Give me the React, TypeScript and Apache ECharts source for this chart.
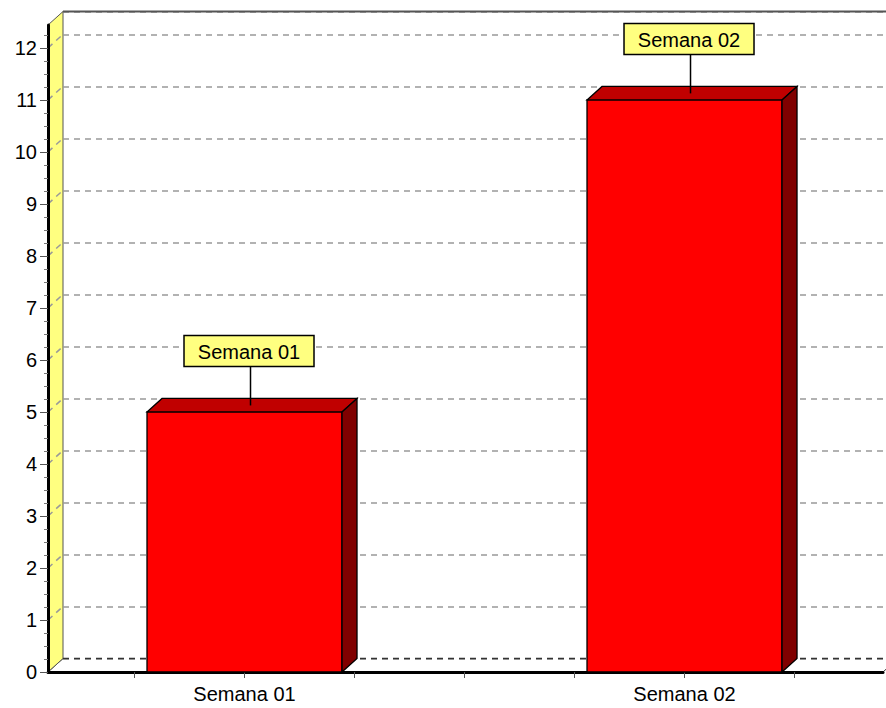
import React, { useEffect, useRef } from "react";
import * as echarts from "echarts";

const categories = ["Semana 01", "Semana 02"];
const values = [5, 11];
const yTickValues = [0, 1, 2, 3, 4, 5, 6, 7, 8, 9, 10, 11, 12];
const xTickValues = [-0.25, 0, 0.25, 0.5, 0.75, 1, 1.25];
const xLabelValues = [0, 1];

const X_MIN = -0.4466;
const X_MAX = 1.4511;
const Y_MAX = 12.44;
const DX = 15;
const DY = 13.5;
const BAR_HALF = 0.2216;
const FONT = "'Liberation Sans', Arial, sans-serif";

export default function App() {
  const ref = useRef<HTMLDivElement>(null);
  useEffect(() => {
    const chart = echarts.init(ref.current!, null, { renderer: "svg" });

    const decoRender = (params: any, api: any) => {
      const p0 = api.coord([X_MIN, 0]);
      const pTop = api.coord([X_MIN, Y_MAX]);
      const pR = api.coord([X_MAX, 0]);
      const children: any[] = [];
      children.push({
        type: "polygon",
        shape: { points: [[p0[0], p0[1]], [p0[0] + DX, p0[1] - DY], [pR[0] + DX, pR[1] - DY], [pR[0], pR[1]]] },
        style: { fill: "#ffffff", stroke: null },
      });
      children.push({
        type: "line",
        shape: { x1: pR[0], y1: pR[1], x2: pR[0] + DX, y2: pR[1] - DY },
        style: { stroke: "#333", lineWidth: 1 },
      });
      children.push({
        type: "line",
        shape: { x1: p0[0], y1: p0[1], x2: p0[0] + DX, y2: p0[1] - DY },
        style: { stroke: "#333", lineWidth: 1 },
      });
      children.push({
        type: "polygon",
        shape: { points: [[p0[0], p0[1]], [pTop[0], pTop[1]], [pTop[0] + DX, pTop[1] - DY], [p0[0] + DX, p0[1] - DY]] },
        style: { fill: "#FFFF80", stroke: "#555", lineWidth: 1 },
      });
      yTickValues.forEach((v) => {
        if (v === 0) return;
        const p = api.coord([X_MIN, v]);
        children.push({
          type: "line",
          shape: { x1: p[0], y1: p[1], x2: p[0] + DX, y2: p[1] - DY },
          style: { stroke: "#999", lineWidth: 1.5, lineDash: [6, 5] },
        });
      });
      return { type: "group", children };
    };

    const edgeRender = (params: any, api: any) => {
      const p0 = api.coord([X_MIN, 0]);
      const pTop = api.coord([X_MIN, Y_MAX]);
      const pR = api.coord([X_MAX, 0]);
      return {
        type: "group",
        children: [
          {
            type: "line",
            shape: { x1: p0[0] + DX, y1: p0[1] - DY, x2: pR[0] + DX, y2: pR[1] - DY },
            style: { stroke: "#333", lineWidth: 1.5, lineDash: [6, 5] },
          },
          {
            type: "line",
            shape: { x1: pTop[0] + DX, y1: pTop[1] - DY, x2: pR[0] + DX, y2: pTop[1] - DY },
            style: { stroke: "#555", lineWidth: 2 },
          },
        ],
      };
    };

    const barRender = (params: any, api: any) => {
      const i = api.value(0);
      const v = api.value(1);
      const l = api.coord([i - BAR_HALF, v]);
      const r = api.coord([i + BAR_HALF, 0]);
      const c = api.coord([i, v]);
      const stroke = { stroke: "#000", lineWidth: 1.3 };
      const lx = c[0] + 6;
      const boxW = 130;
      const boxH = 31;
      const boxBottom = c[1] - 45.5;
      const bx = c[0] + 4.5;
      return {
        type: "group",
        children: [
          {
            type: "rect",
            shape: { x: l[0], y: l[1], width: r[0] - l[0], height: r[1] - l[1] },
            style: { fill: "#FF0000", ...stroke },
          },
          {
            type: "polygon",
            shape: { points: [[l[0], l[1]], [l[0] + DX, l[1] - DY], [r[0] + DX, l[1] - DY], [r[0], l[1]]] },
            style: { fill: "#C00000", ...stroke },
          },
          {
            type: "polygon",
            shape: { points: [[r[0], l[1]], [r[0] + DX, l[1] - DY], [r[0] + DX, r[1] - DY], [r[0], r[1]]] },
            style: { fill: "#800000", ...stroke },
          },
          {
            type: "line",
            shape: { x1: lx, y1: c[1] - 6.5, x2: lx, y2: boxBottom },
            style: { stroke: "#000", lineWidth: 1.5 },
          },
          {
            type: "rect",
            shape: { x: bx - boxW / 2, y: boxBottom - boxH, width: boxW, height: boxH },
            style: { fill: "#FFFF80", stroke: "#000", lineWidth: 1.5 },
          },
          {
            type: "text",
            style: {
              text: categories[i],
              x: bx,
              y: boxBottom - boxH / 2 + 1,
              align: "center",
              verticalAlign: "middle",
              fontSize: 20,
              fontFamily: FONT,
              fill: "#000",
            },
          },
        ],
      };
    };

    const option: any = {
      animation: false,
      backgroundColor: "#ffffff",
      grid: [
        { left: 48, right: 3, top: 25, bottom: 36 },
        { left: 63, right: -12, top: 11.5, bottom: 49.5 },
      ],
      xAxis: [
        {
          type: "value",
          gridIndex: 0,
          min: X_MIN,
          max: X_MAX,
          splitLine: { show: false },
          axisLine: { show: true, onZero: false, lineStyle: { color: "#000", width: 3 } },
          axisTick: { show: true, customValues: xTickValues, length: 6, lineStyle: { color: "#555" } },
          axisLabel: {
            customValues: xLabelValues,
            formatter: (v: number) => categories[Math.round(v)] ?? "",
            fontSize: 20,
            color: "#000",
            fontFamily: FONT,
            margin: 12,
          },
        },
        { type: "value", gridIndex: 1, min: X_MIN, max: X_MAX, show: false },
      ],
      yAxis: [
        {
          type: "value",
          gridIndex: 0,
          min: 0,
          max: Y_MAX,
          interval: 1,
          splitLine: { show: false },
          axisLine: { show: true, onZero: false, lineStyle: { color: "#000", width: 3 } },
          axisTick: { show: true, customValues: yTickValues, length: 8, lineStyle: { color: "#555" } },
          minorTick: { show: true, splitNumber: 4, length: 4, lineStyle: { color: "#777" } },
          axisLabel: { showMaxLabel: false, fontSize: 20, color: "#000", fontFamily: FONT, margin: 11 },
        },
        {
          type: "value",
          gridIndex: 1,
          min: 0,
          max: Y_MAX,
          interval: 1,
          axisLine: { show: false, onZero: false },
          axisTick: { show: false },
          axisLabel: { show: false },
          splitLine: { show: true, lineStyle: { color: "#999", type: [6, 5], width: 1.5 } },
        },
      ],
      series: [
        {
          type: "custom",
          xAxisIndex: 0,
          yAxisIndex: 0,
          z: -1,
          clip: false,
          silent: true,
          data: [[0, 0]],
          renderItem: decoRender,
        },
        {
          type: "custom",
          xAxisIndex: 0,
          yAxisIndex: 0,
          z: 1,
          clip: false,
          silent: true,
          data: [[0, 0]],
          renderItem: edgeRender,
        },
        {
          type: "custom",
          xAxisIndex: 0,
          yAxisIndex: 0,
          z: 5,
          clip: false,
          data: values.map((v, i) => [i, v]),
          renderItem: barRender,
        },
      ],
    };
    chart.setOption(option);
    return () => chart.dispose();
  }, []);
  return <div ref={ref} style={{ position: "fixed", left: 0, top: 0, width: 886, height: 708 }} />;
}
